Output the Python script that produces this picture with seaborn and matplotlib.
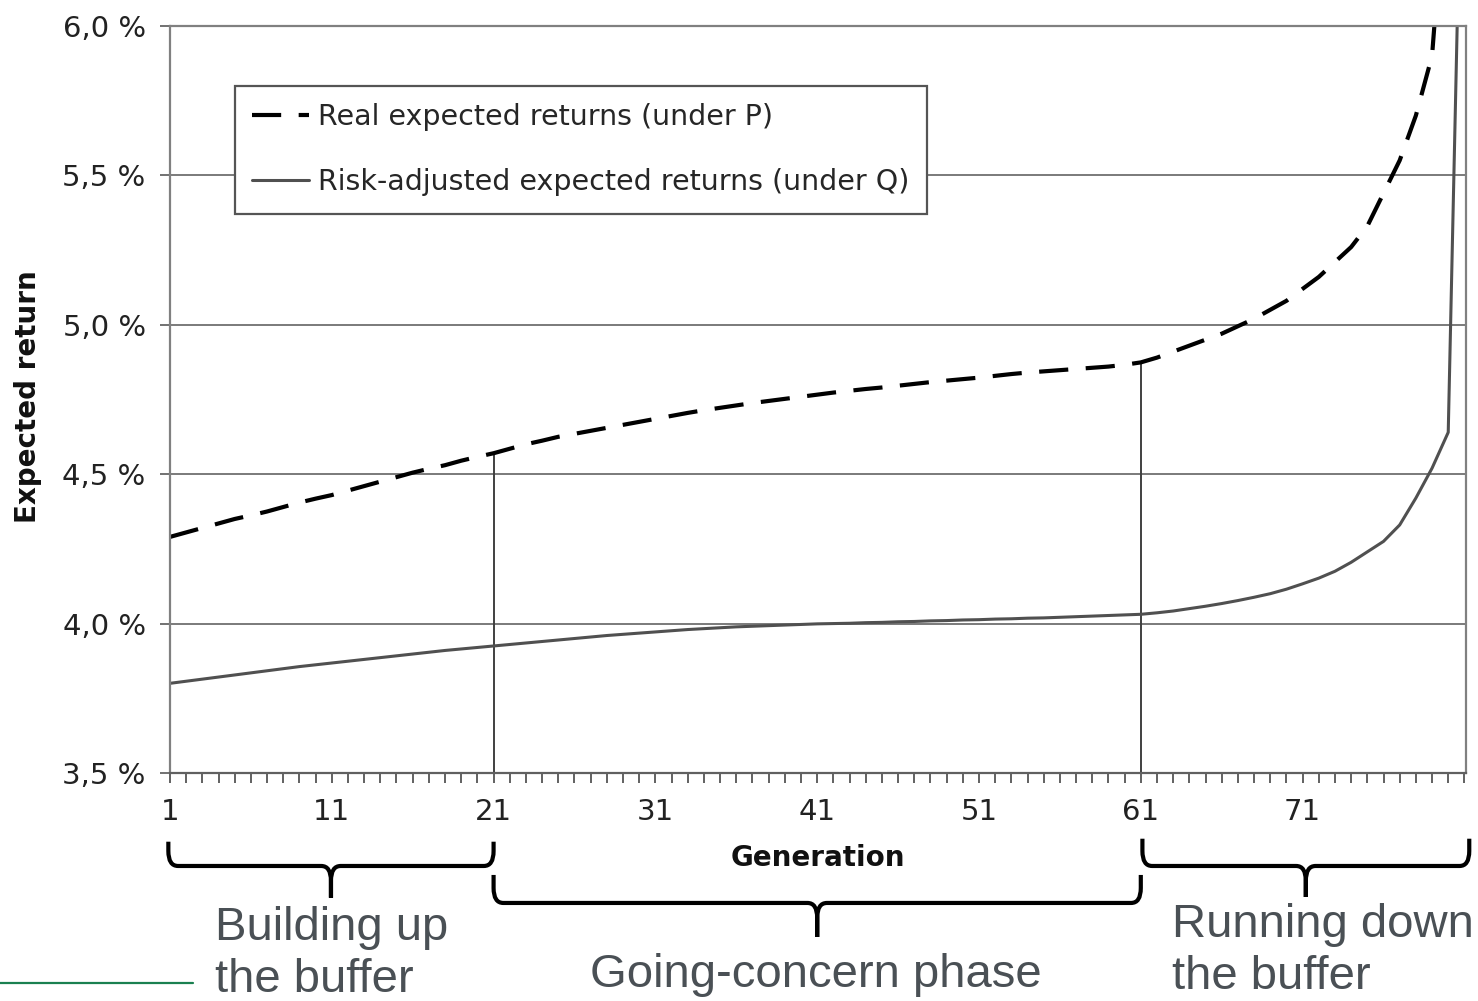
import numpy as np
import pandas as pd
import seaborn as sns
import matplotlib.pyplot as plt
from matplotlib.path import Path
from matplotlib.patches import PathPatch
from matplotlib.lines import Line2D

# values (expected return in %)
gen_p = list(range(1, 81))
real_p = [4.290, 4.305, 4.320, 4.335, 4.350, 4.362, 4.375, 4.390, 4.405, 4.418,
          4.430, 4.445, 4.460, 4.475, 4.490, 4.505, 4.518, 4.530, 4.545, 4.558,
          4.570, 4.585, 4.600, 4.612, 4.625, 4.635, 4.645, 4.655, 4.665, 4.675,
          4.685, 4.695, 4.705, 4.714, 4.722, 4.730, 4.738, 4.745, 4.752, 4.759,
          4.766, 4.773, 4.779, 4.785, 4.790, 4.796, 4.802, 4.808, 4.813, 4.818,
          4.823, 4.829, 4.835, 4.840, 4.844, 4.848, 4.852, 4.856, 4.860, 4.866,
          4.874, 4.890, 4.910, 4.930, 4.950, 4.970, 4.995, 5.020, 5.050, 5.080,
          5.120, 5.160, 5.210, 5.260, 5.330, 5.440, 5.550, 5.700, 5.900, 6.600]

gen_q = list(range(1, 82))
risk_q = [3.800, 3.807, 3.814, 3.821, 3.828, 3.835, 3.842, 3.849, 3.856, 3.862,
          3.868, 3.874, 3.880, 3.886, 3.892, 3.898, 3.904, 3.910, 3.915, 3.920,
          3.925, 3.930, 3.935, 3.940, 3.945, 3.950, 3.955, 3.960, 3.964, 3.968,
          3.972, 3.976, 3.980, 3.983, 3.986, 3.989, 3.991, 3.993, 3.995, 3.997,
          3.999, 4.000, 4.001, 4.003, 4.004, 4.006, 4.007, 4.009, 4.010, 4.012,
          4.013, 4.015, 4.016, 4.018, 4.019, 4.021, 4.023, 4.025, 4.027, 4.029,
          4.031, 4.036, 4.042, 4.050, 4.058, 4.067, 4.077, 4.088, 4.100, 4.115,
          4.133, 4.152, 4.175, 4.205, 4.240, 4.275, 4.330, 4.420, 4.520, 4.640,
          7.100]

yticks = [3.5, 4.0, 4.5, 5.0, 5.5, 6.0]
xticks = [1, 11, 21, 31, 41, 51, 61, 71]
phase_bounds = [1, 21, 61, 81]
phase_labels = ["Building up\nthe buffer", "Going-concern phase", "Running down\nthe buffer"]

sns.set_theme(style="white")
plt.rcParams["font.family"] = ["DejaVu Sans"]

fig = plt.figure(figsize=(14.78, 10.01), dpi=100)
ax = fig.add_axes([0.115, 0.2278, 0.8769, 0.7463])

sns.lineplot(x=gen_p, y=real_p, ax=ax, color="black", lw=3.0,
             linestyle=(0, (7, 4.2)), label="Real expected returns (under P)")
sns.lineplot(x=gen_q, y=risk_q, ax=ax, color="#505050", lw=2.2,
             label="Risk-adjusted expected returns (under Q)")

# vertical markers at the phase boundaries, up to the dashed curve
ax.vlines([21, 61], 3.5, [real_p[20], real_p[60]], color="#404040", lw=1.4, zorder=1)

ax.set_xlim(1, 81.1)
ax.set_ylim(3.5, 6.0)
ax.set_yticks(yticks)
ax.set_yticklabels([f"{v:.1f} %".replace(".", ",") for v in yticks], fontsize=21, color="#222222")
ax.set_xticks(xticks)
ax.set_xticklabels([str(v) for v in xticks], fontsize=21, color="#222222")
ax.set_xticks(range(1, 82), minor=True)
ax.tick_params(axis="x", which="both", direction="out", length=7, width=1.3,
               color="#555555", bottom=True, pad=11)
ax.tick_params(axis="y", which="major", direction="out", length=7, width=1.3,
               color="#666666", left=True, pad=10.5)

ax.grid(axis="y", color="#7a7a7a", lw=1.4)
ax.set_axisbelow(True)
for s in ax.spines.values():
    s.set_color("#808080")
    s.set_linewidth(1.6)
ax.spines["bottom"].set_color("#606060")

ax.set_xlabel("Generation", fontsize=20, fontweight="bold", color="#111111")
ax.xaxis.set_label_coords(0.5, -0.095)
ax.set_ylabel("")
fig.text(28 / 1478, 1 - 397 / 1001, "Expected return", rotation=90, fontsize=20,
         fontweight="bold", ha="center", va="center", color="#111111")

leg = ax.legend(loc="upper left", bbox_to_anchor=(0.05, 0.92), frameon=True,
                fancybox=False, edgecolor="#555555", framealpha=1, fontsize=20.5,
                handlelength=2.0, handletextpad=0.3, borderpad=0.62,
                labelspacing=1.3, borderaxespad=0)
leg.get_frame().set_linewidth(1.6)


def brace(x0, x1, y_top, y_mid, y_tip, rx=0.6, ry=0.02):
    xm = (x0 + x1) / 2
    verts, codes = [], []
    for xa, sgn in [(x0, 1), (x1, -1)]:
        verts += [(xa, y_top), (xa, y_mid + ry), (xa, y_mid), (xa + sgn * rx, y_mid),
                  (xm - sgn * rx, y_mid), (xm, y_mid), (xm, y_mid - ry), (xm, y_tip)]
        codes += [Path.MOVETO, Path.LINETO, Path.CURVE3, Path.CURVE3,
                  Path.LINETO, Path.CURVE3, Path.CURVE3, Path.LINETO]
    patch = PathPatch(Path(verts, codes), fill=False, lw=3.0, edgecolor="black",
                      transform=ax.get_xaxis_transform(), clip_on=False,
                      capstyle="butt", joinstyle="round")
    ax.add_patch(patch)


brace(phase_bounds[0] - 0.1, phase_bounds[1], -0.092, -0.1245, -0.167)
brace(phase_bounds[1], phase_bounds[2], -0.1365, -0.174, -0.2195)
brace(phase_bounds[2] + 0.1, phase_bounds[3] + 0.3, -0.088, -0.1245, -0.166)

txt = dict(family="Liberation Sans", fontsize=34, color="#4a5055", linespacing=1.24)
fig.text(215 / 1478, 1 - 906 / 1001, phase_labels[0], ha="left", va="top", **txt)
fig.text(816 / 1478, 1 - 975 / 1001, phase_labels[1], ha="center", va="center", **txt)
fig.text(1172 / 1478, 1 - 903 / 1001, phase_labels[2], ha="left", va="top", **txt)

fig.add_artist(Line2D([0, 193 / 1478], [1 - 983 / 1001] * 2, color="#1a8050", lw=1.6))

fig.savefig("out.png", dpi=100)
